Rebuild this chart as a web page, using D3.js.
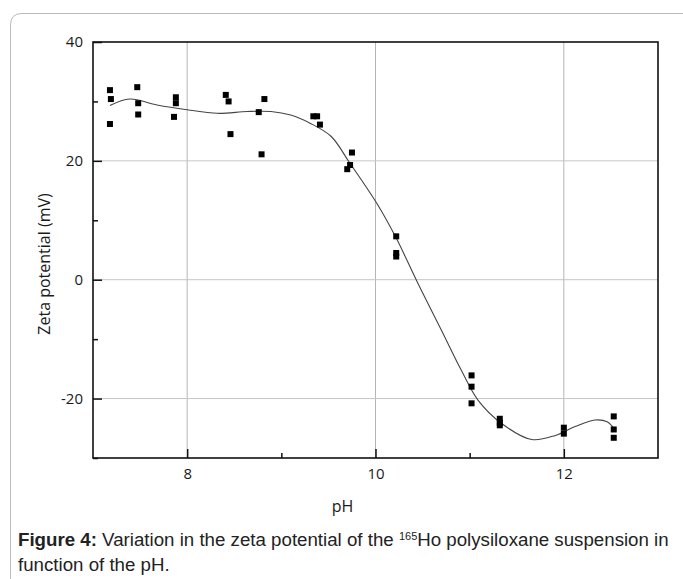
<!DOCTYPE html>
<html>
<head>
<meta charset="utf-8">
<script src="https://cdn.jsdelivr.net/npm/d3@7"></script>
<style>
  body { margin: 0; background: #fff; }
  text { font-family: "Open Sans", sans-serif; fill: #1a1a1a; }
  .caption { font-family: "Liberation Sans", Arial, sans-serif; fill: #222; }
</style>
</head>
<body>
<svg id="chart" width="683" height="579"></svg>
<script>
// measured points (pH, zeta mV)
var ph_values = [7.18, 7.19, 7.18, 7.47, 7.48, 7.48, 7.88, 7.88, 7.86,
  8.41, 8.44, 8.46, 8.76, 8.79, 8.82, 9.34, 9.38, 9.41, 9.75, 9.73, 9.70,
  10.22, 10.22, 10.22, 11.02, 11.02, 11.02, 11.32, 11.32, 11.32, 12.0, 12.0,
  12.53, 12.53, 12.53];
var zeta_values = [31.9, 30.4, 26.2, 32.4, 29.7, 27.8, 30.7, 29.7, 27.4,
  31.1, 30.0, 24.5, 28.2, 21.1, 30.4, 27.5, 27.5, 26.1, 21.4, 19.3, 18.6,
  7.3, 4.5, 3.9, -16.1, -18.0, -20.8, -23.4, -24.1, -24.5, -24.9, -25.9,
  -23.0, -25.2, -26.6];

// fitted curve
var fit_ph = [7.18, 7.39, 7.68, 8.0, 8.32, 8.64, 8.89, 9.10, 9.31, 9.53, 9.72,
  10.02, 10.22, 10.45, 10.70, 10.91, 11.09, 11.34, 11.66, 11.91, 12.12, 12.33,
  12.46, 12.53];
var fit_zeta = [29.3, 30.4, 29.4, 28.6, 28.0, 28.3, 28.3, 27.7, 26.3, 24.1, 19.8,
  12.7, 7.0, -0.6, -8.5, -15.2, -20.3, -24.2, -26.9, -26.2, -24.7, -23.6,
  -23.9, -25.0];

var x_major = [8, 10, 12];
var x_minor = [9, 11];
var y_major = [40, 20, 0, -20];
var y_minor = [30, 10, -10, -30];

function draw() {
    var svg = d3.select("#chart");

    // outer figure box (rounded top-left, runs off the page)
    svg.append("path")
        .attr("d", "M10.5,600 L10.5,25 Q10.5,13.5 22,13.5 L700,13.5")
        .attr("fill", "none")
        .attr("stroke", "#bbb")
        .attr("stroke-width", 1);

    var m_left = 93, m_right = 658, m_top = 42, m_bottom = 458;

    var x = d3.scaleLinear().domain([7, 13]).range([m_left, m_right]);
    var y = d3.scaleLinear().domain([-30, 40]).range([m_bottom, m_top]);

    // grid
    svg.append("g").selectAll("line")
        .data(x_major)
        .enter()
        .append("line")
        .attr("x1", d => x(d)).attr("x2", d => x(d))
        .attr("y1", m_top).attr("y2", m_bottom)
        .attr("stroke", "#b5b5b5").attr("stroke-width", 1);

    svg.append("g").selectAll("line")
        .data(y_major.filter(d => d != 40))
        .enter()
        .append("line")
        .attr("x1", m_left).attr("x2", m_right)
        .attr("y1", d => y(d)).attr("y2", d => y(d))
        .attr("stroke", "#c5c5c5").attr("stroke-width", 1);

    // axes with inward ticks, plain hyphen for negatives
    var plain = d => String(d);
    svg.append("g")
        .attr("transform", "translate(0," + m_bottom + ")")
        .call(d3.axisBottom(x).tickValues(x_major).tickFormat(plain)
            .tickSizeInner(-9).tickSizeOuter(0).tickPadding(10));
    svg.append("g")
        .attr("transform", "translate(0," + m_bottom + ")")
        .call(d3.axisBottom(x).tickValues(x_minor).tickSizeInner(-5).tickSizeOuter(0).tickFormat(""));

    svg.append("g")
        .attr("transform", "translate(" + m_left + ",0)")
        .call(d3.axisLeft(y).tickValues(y_major).tickFormat(plain)
            .tickSizeInner(-9).tickSizeOuter(0).tickPadding(10));
    svg.append("g")
        .attr("transform", "translate(" + m_left + ",0)")
        .call(d3.axisLeft(y).tickValues(y_minor).tickSizeInner(-5).tickSizeOuter(0).tickFormat(""));

    svg.selectAll(".domain").remove();
    svg.selectAll(".tick line").attr("stroke", "#111").attr("stroke-width", 1.5);
    svg.selectAll(".tick text")
        .style("font-family", "'Open Sans', sans-serif")
        .style("font-size", "15px")
        .attr("fill", "#1a1a1a");

    // frame
    svg.append("rect")
        .attr("x", m_left).attr("y", m_top)
        .attr("width", m_right - m_left).attr("height", m_bottom - m_top)
        .attr("fill", "none")
        .attr("stroke", "#111")
        .attr("stroke-width", 1.6);

    // fitted curve
    var fit = d3.zip(fit_ph, fit_zeta);
    svg.append("path")
        .datum(fit)
        .attr("d", d3.line().x(d => x(d[0])).y(d => y(d[1])).curve(d3.curveCatmullRom.alpha(0.5)))
        .attr("fill", "none")
        .attr("stroke", "#444")
        .attr("stroke-width", 1.1);

    // markers
    var pts = d3.zip(ph_values, zeta_values);
    svg.append("g").selectAll("rect")
        .data(pts)
        .enter()
        .append("rect")
        .attr("x", d => x(d[0]) - 3)
        .attr("y", d => y(d[1]) - 3)
        .attr("width", 6).attr("height", 6)
        .attr("fill", "#000");

    // axis titles
    svg.append("text")
        .attr("x", x(10) - 33).attr("y", 512)
        .attr("text-anchor", "middle")
        .style("font-size", "16px")
        .text("pH");

    svg.append("text")
        .attr("transform", "translate(50,264) rotate(-90)")
        .attr("text-anchor", "middle")
        .style("font-size", "16px")
        .text("Zeta potential (mV)");

    // caption
    var cap = svg.append("text")
        .attr("class", "caption")
        .attr("x", 18).attr("y", 546)
        .style("font-size", "18.7px");
    cap.append("tspan").style("font-weight", "bold").text("Figure 4:");
    cap.append("tspan").text(" Variation in the zeta potential of the ");
    cap.append("tspan").attr("dy", -6).style("font-size", "11px").text("165");
    cap.append("tspan").attr("dy", 6).text("Ho polysiloxane suspension in");

    svg.append("text")
        .attr("class", "caption")
        .attr("x", 18).attr("y", 571)
        .style("font-size", "18.7px")
        .text("function of the pH.");
}

draw();
</script>
</body>
</html>
